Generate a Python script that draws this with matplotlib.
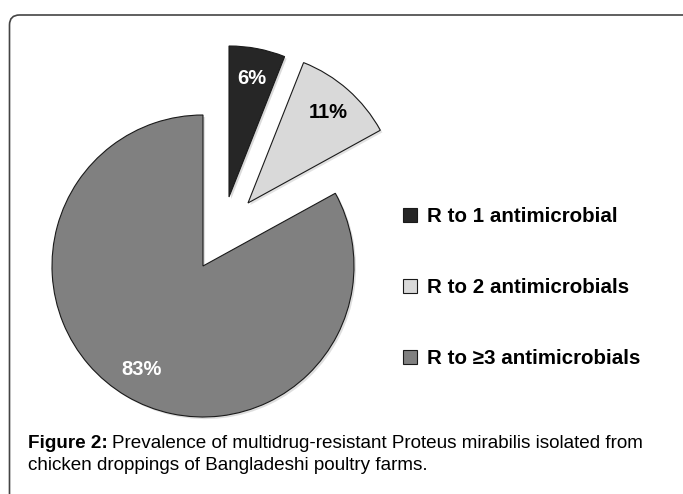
import matplotlib.pyplot as plt
from matplotlib.patches import FancyBboxPatch
import matplotlib.patheffects as pe

plt.rcParams['font.family'] = ['Liberation Sans', 'DejaVu Sans']

# data
labels = ['R to 1 antimicrobial', 'R to 2 antimicrobials', 'R to \u22653 antimicrobials']
values = [6, 11, 83]
colors = ['#262626', '#d9d9d9', '#808080']
pct_colors = ['white', 'black', 'white']
# pulled-out slices, offsets in pixels (x, y up)
shifts = [(26, 69), (45, 63), (0, 0)]

W, H = 683, 494
fig = plt.figure(figsize=(W / 100, H / 100), dpi=100)
ax = fig.add_axes([0, 0, 1, 1])

# rounded frame
top = H - 15
frame = FancyBboxPatch((9.5, -30), 700, top + 30,
                       boxstyle='round,pad=0,rounding_size=10',
                       facecolor='white', edgecolor='#444444', lw=1.2, zorder=0)
ax.add_patch(frame)

cx, cy, r = 203, H - 266, 151
wedges, texts, autotexts = ax.pie(
    values, colors=colors, startangle=90, counterclock=False,
    center=(cx, cy), radius=r, autopct='%d%%', pctdistance=0.8,
    wedgeprops=dict(edgecolor='#1a1a1a', linewidth=0.8), frame=True)

for w, t, c, (dx, dy) in zip(wedges, autotexts, pct_colors, shifts):
    w.set_center((cx + dx, cy + dy))
    x, y = t.get_position()
    t.set_position((x + dx, y + dy))
    w.set_path_effects([pe.SimplePatchShadow(offset=(1.5, -1.5), alpha=0.15), pe.Normal()])
    t.set_color(c)
    t.set_fontsize(14.5)
    t.set_fontweight('bold')

leg = ax.legend(wedges, labels, loc='upper left', bbox_to_anchor=(403 / W, 1 - 207 / H),
                bbox_transform=fig.transFigure, frameon=False, labelspacing=2.53,
                handlelength=0.7, handleheight=0.7, handletextpad=0.45,
                borderpad=0, borderaxespad=0,
                prop=dict(size=14.8, weight='bold'))
for h in leg.legend_handles:
    h.set_path_effects([])
    h.set_linewidth(0.8)

ax.set_xlim(0, W)
ax.set_ylim(0, H)
ax.set_aspect('equal')
ax.axis('off')

# caption
t1 = ax.text(28, H - 443, 'Figure 2:', fontsize=13.6, fontweight='bold', va='center')
fig.canvas.draw()
bb = t1.get_window_extent()
ax.text(bb.x1 + 4, H - 443, 'Prevalence of multidrug-resistant Proteus mirabilis isolated from',
        fontsize=13.6, va='center')
ax.text(28, H - 465, 'chicken droppings of Bangladeshi poultry farms.', fontsize=13.6, va='center')

fig.savefig('out.png', dpi=100)
